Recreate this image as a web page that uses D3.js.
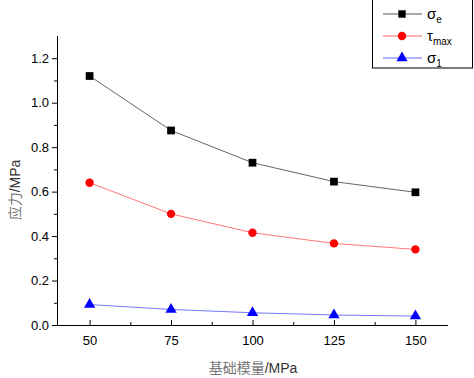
<!DOCTYPE html>
<html>
<head>
<meta charset="utf-8">
<script src="https://cdn.jsdelivr.net/npm/d3@7"></script>
<style>
  body { margin: 0; background: #fff; }
  text { font-family: "Liberation Sans", Arial, sans-serif; }
</style>
</head>
<body>
<svg id="chart"></svg>
<script>
// data
const modulus = [50, 75, 100, 125, 150]
const sigmaE = [1.12, 0.875, 0.73, 0.645, 0.597]
const tauMax = [0.64, 0.50, 0.415, 0.367, 0.34]
const sigma1 = [0.092, 0.07, 0.055, 0.045, 0.04]
const yTicks = [0, 0.2, 0.4, 0.6, 0.8, 1.0, 1.2]
const xTicks = [50, 75, 100, 125, 150]

const series = [
    { name: 'σ', sub: 'e', values: sigmaE, color: '#000', line: '#555', shape: d3.symbolSquare },
    { name: 'τ', sub: 'max', values: tauMax, color: '#f00', line: '#f66', shape: d3.symbolCircle },
    { name: 'σ', sub: '1', values: sigma1, color: '#00f', line: '#66f', shape: d3.symbolTriangle }
]

const width = 474, height = 378
const svg = d3.select('#chart').attr('width', width).attr('height', height)

let scaleX = d3.scaleLinear().domain([40, 160]).range([57, 448])
let scaleY = d3.scaleLinear().domain([0, 1.3]).range([325, 36])

// y axis: ticks outside
let yMinor = d3.range(0.1, 1.3, 0.2)
svg.append('g').attr('transform', 'translate(57,0)')
    .call(d3.axisLeft(scaleY).tickValues(yMinor).tickSize(3).tickFormat(''))
    .call(g => g.select('.domain').remove())
svg.append('g').attr('transform', 'translate(57,0)')
    .call(d3.axisLeft(scaleY).tickValues(yTicks).tickSize(5).tickPadding(3).tickFormat(d3.format('.1f')))
    .call(g => g.selectAll('text').attr('font-size', 13).attr('fill', '#000'))
    .call(g => g.select('.domain').attr('d', 'M0.5,' + scaleY(1.3) + 'V' + (scaleY(0) + 0.5)))

// x axis: ticks inside
let xMinor = [62.5, 87.5, 112.5, 137.5]
svg.append('g').attr('transform', 'translate(0,325)')
    .call(d3.axisTop(scaleX).tickValues(xMinor).tickSize(3).tickFormat(''))
    .call(g => g.select('.domain').remove())
let xAxis = svg.append('g').attr('transform', 'translate(0,325)')
    .call(d3.axisTop(scaleX).tickValues(xTicks).tickSize(5).tickFormat(d3.format('d')))
    .call(g => g.select('.domain').attr('d', 'M57,0.5H448'))
xAxis.selectAll('text').attr('font-size', 13).attr('fill', '#000')
    .attr('y', 20).attr('dy', 0)

// axis titles
svg.append('text')
    .attr('transform', 'translate(20,190) rotate(-90)')
    .attr('text-anchor', 'middle').attr('font-size', 14).attr('fill', '#333')
    .html('<tspan font-family="Noto Sans CJK SC" fill="#777">应力</tspan>/MPa')
svg.append('text')
    .attr('x', 253).attr('y', 373)
    .attr('text-anchor', 'middle').attr('font-size', 14).attr('fill', '#333')
    .html('<tspan font-family="Noto Sans CJK SC" fill="#777">基础模量</tspan>/MPa')

// lines and markers
let lineFunction = d3.line()
    .x((d, i) => scaleX(modulus[i]))
    .y(d => scaleY(d))

series.forEach(s => {
    svg.append('path')
        .attr('d', lineFunction(s.values))
        .attr('stroke', s.line).attr('stroke-width', 0.9).attr('fill', 'none')
    svg.selectAll(null).data(s.values).enter().append('path')
        .attr('d', d3.symbol().type(s.shape).size(s.shape === d3.symbolSquare ? 60 : 55))
        .attr('transform', (d, i) => 'translate(' + scaleX(modulus[i]) + ',' + scaleY(d) + ')')
        .attr('fill', s.color)
})

// legend
let legend = svg.append('g')
legend.append('rect')
    .attr('x', 372.5).attr('y', -1).attr('width', 100).attr('height', 69)
    .attr('fill', '#fff').attr('stroke', '#000').attr('stroke-width', 1)
series.forEach((s, i) => {
    let y = 14 + i * 22
    legend.append('line').attr('x1', 383).attr('x2', 422).attr('y1', y).attr('y2', y)
        .attr('stroke', s.line).attr('stroke-width', 1)
    legend.append('path')
        .attr('d', d3.symbol().type(s.shape).size(55))
        .attr('transform', 'translate(402,' + y + ')')
        .attr('fill', s.color)
    let t = legend.append('text').attr('x', 427).attr('y', y + 5).attr('font-size', 15)
    t.append('tspan').text(s.name)
    t.append('tspan').attr('font-size', 10).attr('dy', 4).text(s.sub)
})
</script>
</body>
</html>
